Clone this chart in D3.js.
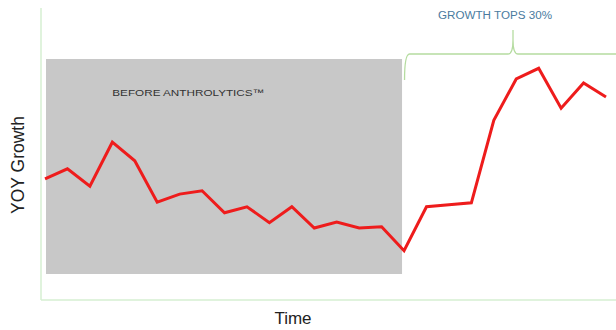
<html>
<head>
<meta charset="utf-8" />
<script src="https://cdn.jsdelivr.net/npm/d3@7/dist/d3.min.js"></script>
<style>
  body { margin:0; background:#fff; }
  text { font-family: Arial, "Liberation Sans", sans-serif; }
</style>
</head>
<body>
<svg width="616" height="330"></svg>
<script>
// YOY growth (%) per period
var periods = d3.range(26);
var growth = [14.3, 15.8, 13.2, 19.8, 17.0, 10.8, 12.0, 12.5, 9.2, 10.1, 7.7, 10.1, 6.9,
              7.8, 6.9, 7.1, 3.5, 10.1, 10.4, 10.7, 23.1, 29.3, 30.9, 24.9, 28.7, 26.6];
var beforeEnd = 16;       // last period before Anthrolytics
var topAfter = 32.3;      // top of shaded box

var svg = d3.select("svg");

var x = d3.scaleLinear().domain([0, 25]).range([45, 606]);
var y = d3.scaleLinear().domain([0, 32.3]).range([274, 59]);

// shaded "before" box
svg.append("rect")
  .attr("x", x(0) + 1)
  .attr("y", y(topAfter))
  .attr("width", x(beforeEnd) - x(0) - 3)
  .attr("height", y(0) - y(topAfter))
  .attr("fill", "#c8c8c8");

// axes (plain lines, no ticks)
svg.append("line").attr("x1", 41).attr("x2", 41).attr("y1", 8).attr("y2", 300)
  .attr("stroke", "#d6efd2").attr("stroke-width", 1.5);
svg.append("line").attr("x1", 41).attr("x2", 616).attr("y1", 300).attr("y2", 300)
  .attr("stroke", "#d6efd2").attr("stroke-width", 1.5);

svg.append("text")
  .attr("x", x(3))
  .attr("y", 96)
  .attr("font-size", 9.5)
  .attr("fill", "#333")
  .attr("textLength", 152)
  .attr("lengthAdjust", "spacingAndGlyphs")
  .text("BEFORE ANTHROLYTICS\u2122");

// the growth line
var line = d3.line()
  .x(function(d, i) { return x(periods[i]); })
  .y(function(d) { return y(d); });

svg.append("path")
  .datum(growth)
  .attr("d", line)
  .attr("fill", "none")
  .attr("stroke", "#ee1c1c")
  .attr("stroke-width", 3)
  .attr("stroke-linejoin", "miter");

// brace over the "after" section
var bx0 = x(beforeEnd) + 0.5, bx1 = 616, by = 54, bmid = 513;
var brace = "M" + bx0 + ",80" +
  " Q" + bx0 + "," + by + " " + (bx0 + 5) + "," + by +
  " L" + (bmid - 5) + "," + by +
  " Q" + bmid + "," + by + " " + bmid + ",40" +
  " L" + bmid + ",30" +
  " M" + bmid + ",40" +
  " Q" + bmid + "," + by + " " + (bmid + 5) + "," + by +
  " L" + bx1 + "," + by;
svg.append("path")
  .attr("d", brace)
  .attr("fill", "none")
  .attr("stroke", "#b5dca0")
  .attr("stroke-width", 1.3);

svg.append("text")
  .attr("x", 438)
  .attr("y", 19)
  .attr("font-size", 10)
  .attr("fill", "#4a7ba0")
  .attr("textLength", 114)
  .attr("lengthAdjust", "spacingAndGlyphs")
  .text("GROWTH TOPS 30%");

// axis titles
svg.append("text")
  .attr("transform", "translate(24,165) rotate(-90)")
  .attr("text-anchor", "middle")
  .attr("font-size", 17.5)
  .attr("fill", "#222")
  .text("YOY Growth");

svg.append("text")
  .attr("x", 293)
  .attr("y", 324)
  .attr("text-anchor", "middle")
  .attr("font-size", 17)
  .attr("fill", "#222")
  .text("Time");
</script>
</body>
</html>
